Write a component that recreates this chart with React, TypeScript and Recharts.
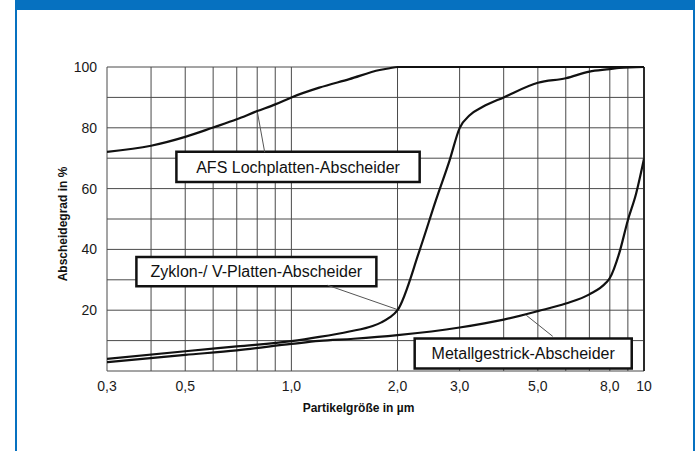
import React from 'react';
import {
  LineChart,
  Line,
  XAxis,
  YAxis,
  CartesianGrid,
  ReferenceLine,
  ReferenceArea,
  Customized,
} from 'recharts';

// ---- data ----
const afsX = [0.3, 0.4, 0.5, 0.6, 0.7, 0.8, 0.9, 1.0, 1.2, 1.46, 1.78, 1.9, 2.0, 10];
const afsY = [72.1, 74.1, 77.0, 80.1, 82.8, 85.5, 87.7, 90.0, 93.2, 96.0, 99.0, 99.6, 100, 100];

const zyklonX = [0.3, 0.5, 0.7, 1.0, 1.2, 1.46, 1.7, 1.8, 1.9, 2.0, 2.31, 2.57, 2.81, 3.0, 3.21, 3.49, 4.0, 5.0, 6.0, 7.0, 8.0, 8.5, 10];
const zyklonY = [4.0, 6.5, 8.1, 9.8, 11.2, 13.0, 14.8, 16.0, 17.6, 20.0, 39.7, 56.2, 69.3, 79.9, 84.2, 86.9, 90.0, 94.8, 96.3, 98.5, 99.3, 99.7, 100];

const metallX = [0.3, 0.5, 0.7, 1.0, 1.2, 1.5, 2.0, 3.0, 4.0, 5.0, 6.0, 7.0, 7.8, 8.0, 8.5, 9.0, 9.5, 10];
const metallY = [2.9, 5.3, 6.8, 8.9, 9.9, 10.6, 11.8, 14.3, 16.9, 19.7, 22.2, 25.2, 29.0, 30.6, 38.6, 49.6, 58.4, 69.8];

const xTicks = [0.3, 0.5, 1, 2, 3, 5, 8, 10];
const xTickLabels = ['0,3', '0,5', '1,0', '2,0', '3,0', '5,0', '8,0', '10'];
const yTicks = [20, 40, 60, 80, 100];

const gridX = [0.3, 0.4, 0.5, 0.6, 0.7, 0.8, 0.9, 1, 2, 3, 4, 5, 6, 7, 8, 9, 10];
const gridY = [0, 10, 20, 30, 40, 50, 60, 70, 80, 90, 100];

const seriesNames = ['AFS Lochplatten-Abscheider', 'Zyklon-/ V-Platten-Abscheider', 'Metallgestrick-Abscheider'];

const toPoints = (xs: number[], ys: number[]) => xs.map((x, i) => ({ x, y: ys[i] }));
const afsData = toPoints(afsX, afsY);
const zyklonData = toPoints(zyklonX, zyklonY);
const metallData = toPoints(metallX, metallY);

// annotation boxes (in data coordinates) and leader lines
const boxes = [
  { label: seriesNames[0], x1: 0.472, x2: 2.311, y1: 62.2, y2: 72.1 },
  { label: seriesNames[1], x1: 0.3635, x2: 1.742, y1: 27.9, y2: 37.5 },
  { label: seriesNames[2], x1: 2.237, x2: 9.23, y1: 0.8, y2: 10.7 },
];
const leaders = [
  [{ x: 0.8, y: 85.5 }, { x: 0.84, y: 72.0 }],
  [{ x: 1.267, y: 28.2 }, { x: 2.0, y: 20.2 }],
  [{ x: 4.64, y: 18.3 }, { x: 5.51, y: 11.4 }],
];

const X_MIN = 0.3;
const X_MAX = 10;

const vGen = (props: any) => {
  const s = props?.xAxis?.scale;
  if (typeof s === 'function') return gridX.map((v) => s(v));
  const o = props.offset;
  return gridX.map((v) => o.left + (o.width * Math.log10(v / X_MIN)) / Math.log10(X_MAX / X_MIN));
};
const hGen = (props: any) => {
  const s = props?.yAxis?.scale;
  if (typeof s === 'function') return gridY.map((v) => s(v));
  const o = props.offset;
  return gridY.map((v) => o.top + o.height * (1 - v / 100));
};

const xFmt = (v: number) => {
  const i = xTicks.indexOf(v);
  return i >= 0 ? xTickLabels[i] : String(v);
};

const BLUE = '#0671c0';
const FONT = '"Liberation Sans", Arial, Helvetica, sans-serif';

const Titles = () => (
  <g fontFamily={FONT} fontWeight="bold" fontSize={12} fill="#111">
    <text x={358.5} y={412} textAnchor="middle">Partikelgröße in µm</text>
    <text x={63} y={224} textAnchor="middle" dominantBaseline="central" transform="rotate(-90 63 224)">
      Abscheidegrad in %
    </text>
  </g>
);

export default function App() {
  return (
    <div
      style={{
        position: 'absolute',
        left: 0,
        top: 0,
        width: 699,
        height: 451,
        background: '#fff',
        fontFamily: FONT,
        overflow: 'hidden',
      }}
    >
      <div style={{ position: 'absolute', left: 15, top: 0, width: 680, height: 10, background: BLUE }} />
      <div style={{ position: 'absolute', left: 15, top: 0, width: 2, height: 451, background: BLUE }} />
      <div style={{ position: 'absolute', left: 693, top: 0, width: 2, height: 451, background: BLUE }} />
      <div style={{ position: 'absolute', left: 0, top: 0 }}>
        <LineChart width={699} height={451} margin={{ top: 67, right: 55, bottom: 50, left: 0 }}>
          <CartesianGrid
            stroke="#4a4a4a"
            strokeWidth={1}
            verticalCoordinatesGenerator={vGen}
            horizontalCoordinatesGenerator={hGen}
          />
          <XAxis
            type="number"
            dataKey="x"
            scale="log"
            domain={[X_MIN, X_MAX]}
            ticks={xTicks}
            tickFormatter={xFmt}
            interval={0}
            allowDataOverflow
            axisLine={false}
            tickLine={false}
            tickSize={0}
            tickMargin={10}
            height={30}
            tick={{ fill: '#1a1a1a', fontSize: 14 }}
          />
          <YAxis
            type="number"
            dataKey="y"
            domain={[0, 100]}
            ticks={yTicks}
            interval={0}
            axisLine={false}
            tickLine={false}
            tickSize={0}
            tickMargin={10}
            width={107}
            tick={{ fill: '#1a1a1a', fontSize: 14 }}
          />
          <ReferenceLine x={X_MAX} stroke="#2a2a2a" strokeWidth={2} />
          {leaders.map((seg, i) => (
            <ReferenceLine key={'l' + i} segment={seg} stroke="#555" strokeWidth={1} />
          ))}
          {boxes.map((b, i) => (
            <ReferenceArea
              key={'b' + i}
              x1={b.x1}
              x2={b.x2}
              y1={b.y1}
              y2={b.y2}
              fill="#fff"
              fillOpacity={1}
              stroke="#111"
              strokeWidth={2.5}
              label={{ value: b.label, position: 'center', fill: '#111', fontSize: 16 }}
            />
          ))}
          <Line data={afsData} dataKey="y" name={seriesNames[0]} type="monotone" stroke="#111" strokeWidth={2.2} dot={false} isAnimationActive={false} />
          <Line data={zyklonData} dataKey="y" name={seriesNames[1]} type="monotone" stroke="#111" strokeWidth={2.2} dot={false} isAnimationActive={false} />
          <Line data={metallData} dataKey="y" name={seriesNames[2]} type="monotone" stroke="#111" strokeWidth={2.2} dot={false} isAnimationActive={false} />
          <Customized component={Titles} />
        </LineChart>
      </div>
    </div>
  );
}
